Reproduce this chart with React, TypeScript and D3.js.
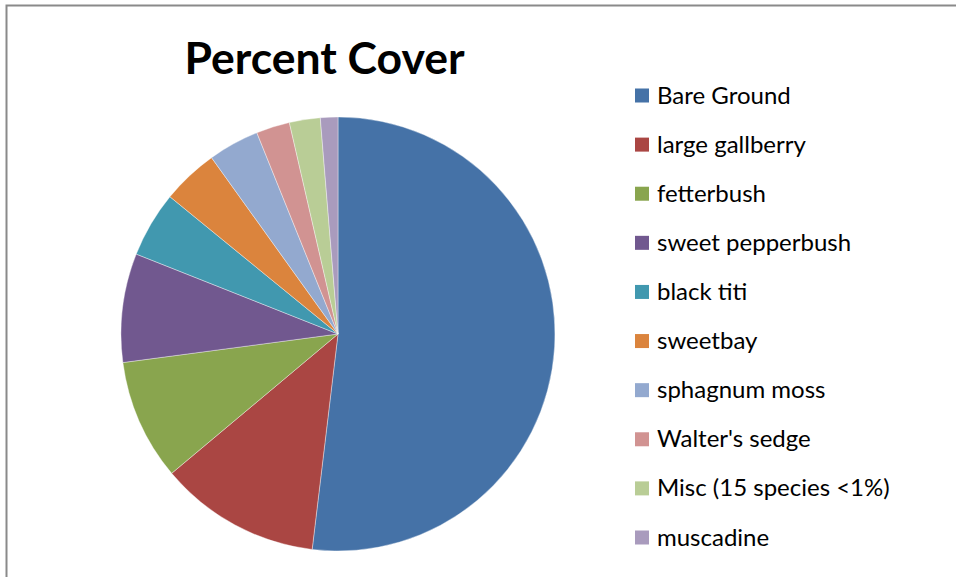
import React from "react";
import * as d3 from "d3";

const categories = [
  "Bare Ground",
  "large gallberry",
  "fetterbush",
  "sweet pepperbush",
  "black titi",
  "sweetbay",
  "sphagnum moss",
  "Walter's sedge",
  "Misc (15 species <1%)",
  "muscadine",
];
const values = [51.9, 12.0, 9.0, 8.1, 4.9, 4.2, 3.8, 2.5, 2.3, 1.3];
const colors = [
  "#4572A7",
  "#AA4643",
  "#89A54E",
  "#71588F",
  "#4198AF",
  "#DB843D",
  "#93A9CF",
  "#D19392",
  "#B9CD96",
  "#A99BBD",
];
const title = "Percent Cover";

const W = 956;
const H = 577;

export default function App() {
  const cx = 338;
  const cy = 334;
  const r = 217;
  const pie = d3
    .pie<number>()
    .sort(null)
    .value((d) => d)
    .startAngle(0)
    .endAngle(2 * Math.PI);
  const arcs = pie(values);
  const arc = d3.arc<d3.PieArcDatum<number>>().innerRadius(0).outerRadius(r);

  const legendY = d3
    .scalePoint<string>()
    .domain(categories)
    .range([95.5, 537.5]);

  return (
    <svg
      width={W}
      height={H}
      style={{ position: "absolute", left: 0, top: 0, background: "#fff" }}
    >
      <rect x={0} y={0} width={W} height={H} fill="#fff" />
      <path
        d={`M6.5,${H + 2} L6.5,5.5 L${W + 2},5.5`}
        fill="none"
        stroke="#8a8a8a"
        strokeWidth={2}
      />
      <text
        x={324.5}
        y={74}
        textAnchor="middle"
        fontFamily="Lato, 'Open Sans', sans-serif"
        fontWeight="bold"
        fontSize={44.5}
        fill="#000"
      >
        {title}
      </text>
      <g transform={`translate(${cx},${cy})`}>
        {arcs.map((a, i) => (
          <path
            key={categories[i]}
            d={arc(a) || ""}
            fill={colors[i]}
            stroke="#ffffff"
            strokeOpacity={0.5}
            strokeWidth={0.75}
          />
        ))}
      </g>
      <g>
        {categories.map((c, i) => {
          const y = legendY(c) as number;
          return (
            <g key={c}>
              <rect x={635} y={y - 7} width={14} height={14} fill={colors[i]} />
              <text
                x={657}
                y={y + 8}
                fontFamily="Lato, 'Open Sans', sans-serif"
                fontSize={24}
                fill="#000"
              >
                {c}
              </text>
            </g>
          );
        })}
      </g>
    </svg>
  );
}
